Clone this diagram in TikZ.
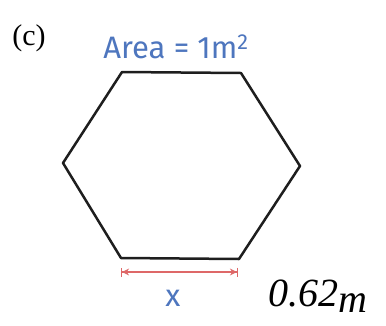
\documentclass[tikz,border=0pt]{standalone}
\usepackage{fontspec}
\setmainfont{Liberation Serif}
\newfontfamily\labelfont{Fira Sans}
\usepackage{xcolor}
\definecolor{hblue}{RGB}{78,118,190}
\definecolor{hred}{RGB}{222,104,104}
\definecolor{hink}{RGB}{30,30,30}
\usepackage{tikz}
\usetikzlibrary{arrows.meta,positioning}

\begin{document}
\begin{tikzpicture}[x=1pt,y=-1pt,
  side/.style={draw=hink,line width=2.5pt,line join=round},
  dim/.style={hred,line width=1.1pt,{Bar[width=9pt]Stealth[length=7pt,width=7pt]}-{Stealth[length=7pt,width=7pt]Bar[width=9pt]}},
  tag/.style={text=hblue,font=\labelfont\fontsize{31}{33}\selectfont,inner sep=0pt}]
\useasboundingbox (0,0) rectangle (386,325);
% part label
\node[font=\fontsize{30}{32}\selectfont,inner sep=0pt] (part) at (29,38) {(c)};
% hexagon corners
\coordinate (tl) at (122,72);
\coordinate (tr) at (241,73);
\coordinate (r)  at (300,166);
\coordinate (br) at (239,259);
\coordinate (bl) at (121,258);
\coordinate (l)  at (63,163);
\draw[side] (tl) -- (tr) -- (r) -- (br) -- (bl) -- (l) -- cycle;
% area label
\node[tag] (area) at (176,47) {Area = 1m\textsuperscript{2}};
% side length
\coordinate (da) at (121,272);
\coordinate (db) at (238,272);
\draw[dim] (da) -- (db);
\node[tag] (x) at (173,298) {x};
% written answer
\node[font=\itshape\fontsize{40}{42}\selectfont,inner sep=0pt,anchor=west] (ans) at (268,296) {0.62\raisebox{-6pt}{m}};
\end{tikzpicture}
\end{document}
